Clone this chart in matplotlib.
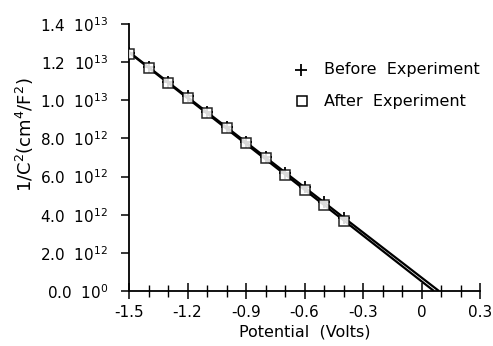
import numpy as np
import matplotlib.pyplot as plt
from matplotlib.ticker import MultipleLocator, FixedLocator

plt.rcParams['font.family'] = ['DejaVu Sans']
plt.rcParams['mathtext.fontset'] = 'dejavusans'

# Mott-Schottky data, potential in volts, 1/C^2 in cm^4/F^2
potential = [-1.5, -1.4, -1.3, -1.2, -1.1, -1.0, -0.9, -0.8, -0.7, -0.6, -0.5, -0.4]
before = [1.25e13, 1.175e13, 1.095e13, 1.02e13, 0.94e13, 0.86e13,
          0.78e13, 0.70e13, 0.62e13, 0.545e13, 0.465e13, 0.385e13]
after = [1.245e13, 1.17e13, 1.09e13, 1.01e13, 0.935e13, 0.855e13,
         0.775e13, 0.695e13, 0.61e13, 0.53e13, 0.45e13, 0.365e13]

y_ticks = [0, 2e12, 4e12, 6e12, 8e12, 1e13, 1.2e13, 1.4e13]
y_labels = [r'0.0  $10^{0}$', r'2.0  $10^{12}$', r'4.0  $10^{12}$', r'6.0  $10^{12}$',
            r'8.0  $10^{12}$', r'1.0  $10^{13}$', r'1.2  $10^{13}$', r'1.4  $10^{13}$']
x_ticks = [-1.5, -1.2, -0.9, -0.6, -0.3, 0.0, 0.3]
x_labels = ['-1.5', '-1.2', '-0.9', '-0.6', '-0.3', '0', '0.3']

fig = plt.figure(figsize=(4.93, 3.46), dpi=100)
ax = fig.add_axes([0.2617, 0.159, 0.712, 0.7716])

# linear fits extended down to the flat-band potential
for ys in (before, after):
    slope, icpt = np.polyfit(potential, ys, 1)
    x0 = -icpt / slope
    xs = np.array([potential[0], x0])
    ax.plot(xs, slope * xs + icpt, color='black', lw=1.6, solid_capstyle='butt', zorder=2)

ax.plot(potential, before, ls='none', marker='+', ms=9, mew=1.3, color='black', zorder=3)
ax.plot(potential, after, ls='none', marker='s', ms=6.5, mfc='white', mec='black', mew=1.1,
        alpha=0.85, zorder=3)

ax.set_xlim(-1.5, 0.3)
ax.set_ylim(0, 1.4e13)
ax.xaxis.set_major_locator(FixedLocator(x_ticks))
ax.set_xticklabels(x_labels)
ax.xaxis.set_minor_locator(MultipleLocator(0.1))
ax.yaxis.set_major_locator(FixedLocator(y_ticks))
ax.set_yticklabels(y_labels)

for s in ('top', 'right'):
    ax.spines[s].set_visible(False)
for s in ('left', 'bottom'):
    ax.spines[s].set_linewidth(1.3)

ax.tick_params(axis='x', which='major', direction='inout', length=12, width=1.1,
               labelsize=11, pad=4)
ax.tick_params(axis='x', which='minor', direction='inout', length=9, width=1.0)
ax.tick_params(axis='y', which='major', direction='out', length=6, width=1.1,
               labelsize=11, pad=9)

ax.set_xlabel('Potential  (Volts)', fontsize=11.5)
ax.xaxis.set_label_coords(0.5, -0.125)
ax.set_ylabel(r'1/C$^2$(cm$^4$/F$^2$)', fontsize=13)
ax.yaxis.set_label_coords(-0.265, 0.585)

# legend drawn by hand
ax.plot([-0.62], [1.16e13], marker='+', ms=9, mew=1.3, color='black', ls='none')
ax.plot([-0.615], [0.996e13], marker='s', ms=6.5, mfc='white', mec='black', mew=1.1,
        ls='none')
ax.text(-0.50, 1.16e13, 'Before  Experiment', fontsize=11.5, va='center')
ax.text(-0.50, 0.996e13, 'After  Experiment', fontsize=11.5, va='center')

fig.savefig('out.png', dpi=100)
